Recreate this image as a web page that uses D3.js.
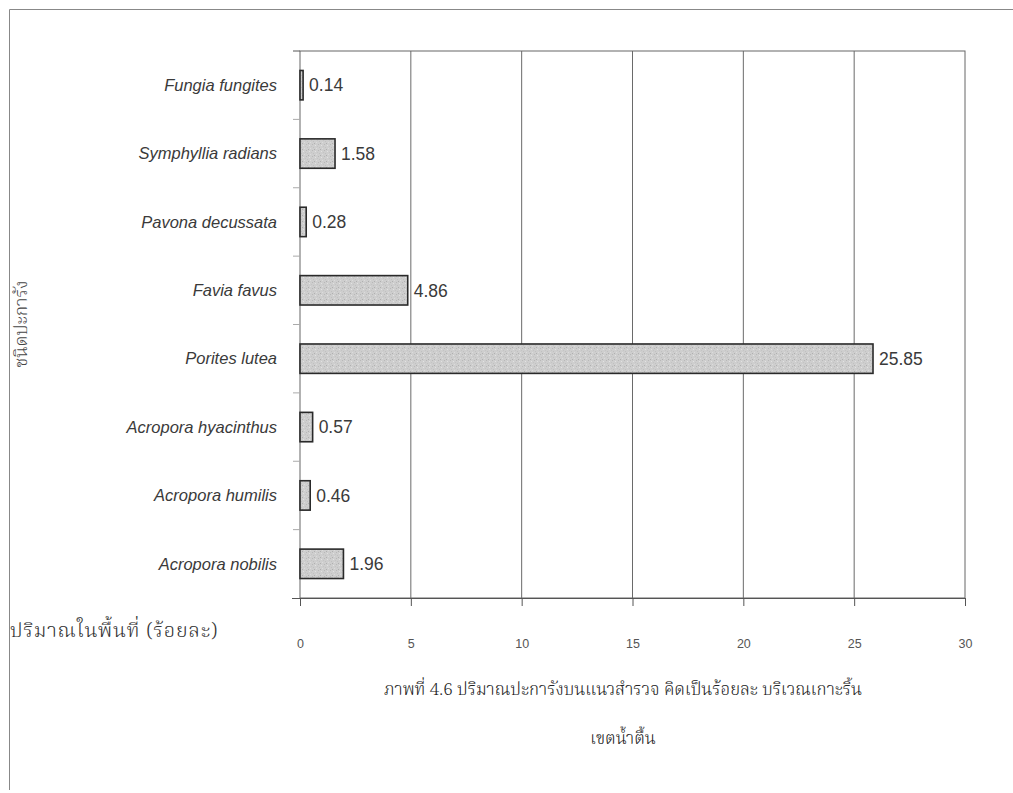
<!DOCTYPE html>
<html>
<head>
<meta charset="utf-8">
<script src="https://cdn.jsdelivr.net/npm/d3@7"></script>
<style>
  html, body { margin: 0; padding: 0; background: #fff; }
  svg { display: block; }
  .thai { font-family: "Noto Serif Thai", "Noto Sans Thai", serif; font-weight: 300; }
  .lat { font-family: "Liberation Sans", Arial, sans-serif; }
</style>
</head>
<body>
<svg id="chart" width="1013" height="793"></svg>
<script>
// Coral species (top to bottom) and their cover along the transect, %
const species = [
  "Fungia fungites",
  "Symphyllia radians",
  "Pavona decussata",
  "Favia favus",
  "Porites lutea",
  "Acropora hyacinthus",
  "Acropora humilis",
  "Acropora nobilis"
];
const cover = [0.14, 1.58, 0.28, 4.86, 25.85, 0.57, 0.46, 1.96];
const xTicks = [0, 5, 10, 15, 20, 25, 30];

const yTitle = "ชนิดปะการัง";
const xTitle = "ปริมาณในพื้นที่ (ร้อยละ)";
const captionLines = [
  "ภาพที่ 4.6 ปริมาณปะการังบนแนวสำรวจ คิดเป็นร้อยละ บริเวณเกาะริ้น",
  "เขตน้ำตื้น"
];

const rows = species.map((s, i) => ({ name: s, value: cover[i] }));

const svg = d3.select("#chart");
const plot = { left: 300, right: 965, top: 51, bottom: 598 };

const x = d3.scaleLinear().domain([0, 30]).range([plot.left, plot.right]);
const y = d3.scaleBand().domain(species).range([plot.top, plot.bottom])
  .paddingInner(0.57).paddingOuter(0.285);
const yStep = d3.scaleBand().domain(species).range([plot.top, plot.bottom]);

// stippled grey fill for the bars
const defs = svg.append("defs");
const pat = defs.append("pattern").attr("id", "stipple")
  .attr("patternUnits", "userSpaceOnUse").attr("width", 6).attr("height", 6);
pat.append("rect").attr("width", 6).attr("height", 6).attr("fill", "#cecece");
[[0,0,"#b8b8b8"],[3,1,"#e2e2e2"],[1,3,"#c0c0c0"],[4,4,"#dcdcdc"],[2,5,"#b0b0b0"],[5,2,"#c4c4c4"]]
  .forEach(([px, py, c]) => pat.append("rect").attr("x", px).attr("y", py)
    .attr("width", 1).attr("height", 1).attr("fill", c));

// outer frame
svg.append("path").attr("d", "M9.5,790 V9.5 H1013")
  .attr("fill", "none").attr("stroke", "#888").attr("stroke-width", 1);

// vertical gridlines
svg.append("g").selectAll("line").data(xTicks.filter(t => t > 0 && t < 30)).join("line")
  .attr("x1", d => x(d)).attr("x2", d => x(d))
  .attr("y1", plot.top).attr("y2", plot.bottom)
  .attr("stroke", "#6a6a6a").attr("stroke-width", 1);

// plot border
svg.append("rect")
  .attr("x", plot.left).attr("y", plot.top)
  .attr("width", plot.right - plot.left).attr("height", plot.bottom - plot.top)
  .attr("fill", "none").attr("stroke", "#666").attr("stroke-width", 1);

// x axis
const xAxis = svg.append("g").attr("transform", `translate(0,${plot.bottom})`)
  .call(d3.axisBottom(x).tickValues(xTicks).tickSize(8).tickPadding(33));
xAxis.select(".domain").attr("stroke", "#555").attr("d", `M${plot.left - 8},0.5H${plot.right}`);
xAxis.selectAll(".tick line").attr("stroke", "#555");
xAxis.selectAll("text").attr("class", "lat").attr("font-size", 12.5).attr("fill", "#555");

// y axis (category ticks at band edges)
svg.append("g").selectAll("line")
  .data(species.slice(1)).join("line")
  .attr("x1", plot.left - 7).attr("x2", plot.left)
  .attr("y1", d => yStep(d)).attr("y2", d => yStep(d))
  .attr("stroke", "#aaa");
svg.append("line").attr("x1", plot.left - 7).attr("x2", plot.left)
  .attr("y1", plot.top).attr("y2", plot.top).attr("stroke", "#555");

svg.append("g").selectAll("text").data(rows).join("text")
  .attr("class", "lat")
  .attr("x", 277).attr("y", d => y(d.name) + y.bandwidth() / 2)
  .attr("dy", "0.35em").attr("text-anchor", "end")
  .attr("font-size", 16.5).attr("font-style", "italic").attr("fill", "#3a3a3a")
  .text(d => d.name);

// bars
svg.append("g").selectAll("rect").data(rows).join("rect")
  .attr("x", x(0)).attr("y", d => y(d.name))
  .attr("width", d => x(d.value) - x(0)).attr("height", y.bandwidth())
  .attr("fill", "url(#stipple)").attr("stroke", "#2a2a2a").attr("stroke-width", 1.6);

// value labels
svg.append("g").selectAll("text").data(rows).join("text")
  .attr("class", "lat")
  .attr("x", d => x(d.value) + 6).attr("y", d => y(d.name) + y.bandwidth() / 2)
  .attr("dy", "0.36em").attr("font-size", 17.5).attr("fill", "#3a3a3a")
  .text(d => d.value.toFixed(2));

// axis titles
svg.append("text").attr("class", "thai")
  .attr("transform", `translate(21,324) rotate(-90)`)
  .attr("text-anchor", "middle").attr("dy", "0.35em")
  .attr("font-size", 17.5).attr("fill", "#444")
  .text(yTitle);
svg.append("text").attr("class", "thai")
  .attr("x", 10).attr("y", 630).attr("dy", "0.35em")
  .attr("font-size", 20).attr("letter-spacing", 0.8).attr("fill", "#333")
  .text(xTitle);

// caption
svg.append("g").selectAll("text").data(captionLines).join("text")
  .attr("class", "thai")
  .attr("x", 623).attr("y", (d, i) => 689 + i * 49).attr("dy", "0.35em")
  .attr("text-anchor", "middle").attr("font-size", 17).attr("fill", "#222")
  .text(d => d);
</script>
</body>
</html>
